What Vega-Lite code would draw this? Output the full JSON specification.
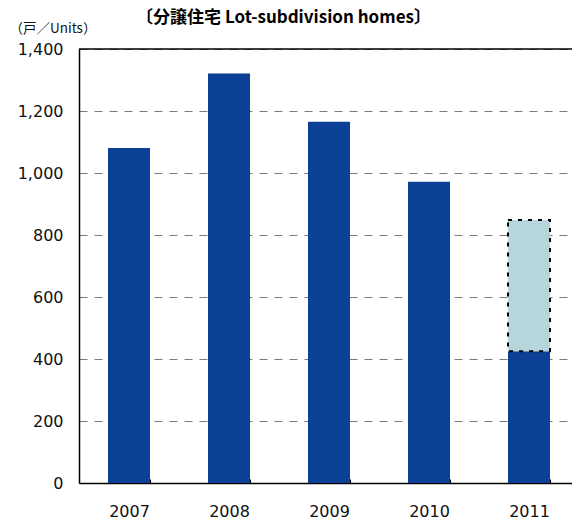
{
  "$schema": "https://vega.github.io/schema/vega-lite/v6.json",
  "autosize": {"type": "none"},
  "width": 493,
  "height": 434,
  "padding": {"left": 79, "top": 49, "right": 0, "bottom": 39},
  "background": "white",
  "config": {
    "view": {"stroke": null},
    "font": "DejaVu Sans",
    "axis": {"labelFont": "DejaVu Sans", "labelFontSize": 16, "labelColor": "#111111"}
  },
  "title": {
    "text": "〔分譲住宅 Lot-subdivision homes〕",
    "font": "Noto Sans CJK JP",
    "fontSize": 17,
    "fontWeight": "bold",
    "color": "#000000",
    "anchor": "middle",
    "frame": "group",
    "dx": -42,
    "offset": 14,
    "dy": 20
  },
  "data": {
    "values": [
      {"year": "2007", "part": "actual", "low": 0, "high": 1081},
      {"year": "2008", "part": "actual", "low": 0, "high": 1321},
      {"year": "2009", "part": "actual", "low": 0, "high": 1165},
      {"year": "2010", "part": "actual", "low": 0, "high": 972},
      {"year": "2011", "part": "actual", "low": 0, "high": 425},
      {"year": "2011", "part": "plan", "low": 425, "high": 848}
    ]
  },
  "encoding": {
    "x": {
      "field": "year",
      "type": "ordinal",
      "title": null,
      "scale": {"range": [0, 500], "paddingInner": 0.58, "paddingOuter": 0.29},
      "axis": {
        "labelAngle": 0,
        "domainColor": "#000000",
        "domainWidth": 1.5,
        "tickBand": "extent",
        "tickColor": "#000000",
        "tickSize": -4,
        "tickWidth": 1,
        "labelPadding": 24,
        "grid": false
      }
    }
  },
  "layer": [
    {
      "mark": {"type": "bar", "color": "#0C4096"},
      "transform": [{"filter": "datum.part === 'actual'"}],
      "encoding": {
        "y": {
          "field": "high",
          "type": "quantitative",
          "scale": {"domain": [0, 1400], "nice": false},
          "axis": {
            "values": [0, 200, 400, 600, 800, 1000, 1200, 1400],
            "format": ",d",
            "ticks": false,
            "tickSize": 0,
            "labelPadding": 16,
            "domainColor": "#000000",
            "domainWidth": 1.5,
            "grid": true,
            "gridColor": "#7a7a7a",
            "gridDash": [8, 7],
            "gridWidth": 1,
            "title": "（戸／Units）",
            "titleFont": "Noto Sans CJK JP",
            "titleFontSize": 13.5,
            "titleFontWeight": "normal",
            "titleColor": "#111111",
            "titleAngle": 0,
            "titleAlign": "left",
            "titleBaseline": "middle",
            "titleX": -70,
            "titleY": -21
          }
        },
        "y2": {"field": "low"}
      }
    },
    {
      "mark": {"type": "bar", "color": "#B7D6DC", "stroke": "#000000", "strokeWidth": 2, "strokeDash": [4, 6]},
      "transform": [{"filter": "datum.part === 'plan'"}],
      "encoding": {
        "y": {"field": "high", "type": "quantitative"},
        "y2": {"field": "low"}
      }
    },
    {
      "data": {"values": [{"top": 1400}]},
      "mark": {"type": "rule", "color": "#000000", "strokeWidth": 1.5},
      "encoding": {"y": {"field": "top", "type": "quantitative"}, "x": {"value": 0}, "x2": {"value": 493}}
    }
  ]
}
